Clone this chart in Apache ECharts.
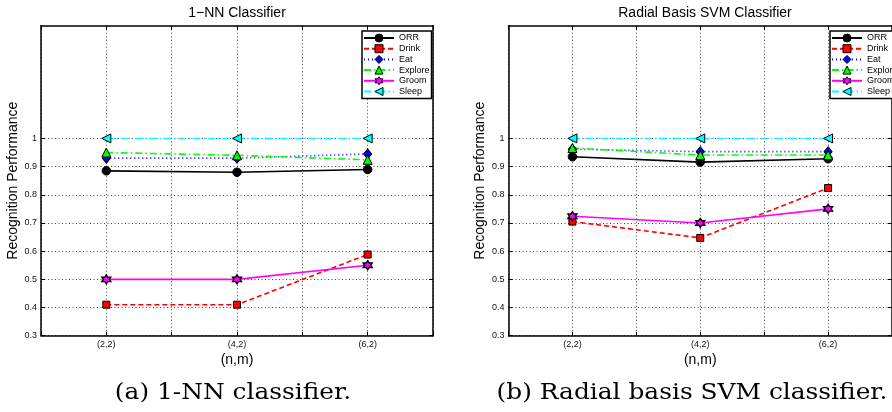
<!DOCTYPE html>
<html>
<head>
<meta charset="utf-8">
<script src="https://cdn.jsdelivr.net/npm/echarts@6/dist/echarts.min.js"></script>
<style>
  html, body { margin: 0; padding: 0; background: #fff; }
  #chart { width: 892px; height: 412px; }
</style>
</head>
<body>
<div id="chart"></div>
<script>
// (n,m) settings on the horizontal axis
const nValues = [2, 4, 6];
const xTickLabels = ['(2,2)', '(4,2)', '(6,2)'];
const yTickValues = [0.3, 0.4, 0.5, 0.6, 0.7, 0.8, 0.9, 1];
const seriesNames = ['ORR', 'Drink', 'Eat', 'Explore', 'Groom', 'Sleep'];

// 1-NN classifier
const nnORR = [0.885, 0.880, 0.890];
const nnDrink = [0.41, 0.41, 0.588];
const nnEat = [0.93, 0.93, 0.945];
const nnExplore = [0.95, 0.94, 0.924];
const nnGroom = [0.50, 0.50, 0.55];
const nnSleep = [1, 1, 1];

// Radial basis SVM classifier
const svmORR = [0.935, 0.916, 0.928];
const svmDrink = [0.705, 0.647, 0.824];
const svmEat = [0.962, 0.953, 0.953];
const svmExplore = [0.966, 0.941, 0.941];
const svmGroom = [0.724, 0.70, 0.75];
const svmSleep = [1, 1, 1];

const SANS = '"Liberation Sans", Arial, Helvetica, sans-serif';
const SERIF = '"DejaVu Serif", "Liberation Serif", serif';

// six-pointed star marker
const HEXAGRAM = 'path://M0,-10L2.887,-5L8.66,-5L5.774,0L8.66,5L2.887,5L0,10L-2.887,5L-8.66,5L-5.774,0L-8.66,-5L-2.887,-5Z';
const DASH_DOT = [7, 3, 1.5, 3];

const looks = {
  ORR:     { color: '#000000', type: 'solid', symbol: 'circle', size: 8.5 },
  Drink:   { color: '#ff0000', type: [5, 3], symbol: 'rect', size: 7 },
  Eat:     { color: '#0000ff', type: [1, 3], symbol: 'diamond', size: [8, 10] },
  Explore: { color: '#00ff00', type: DASH_DOT, symbol: 'triangle', size: 9 },
  Groom:   { color: '#ff00ff', type: 'solid', symbol: HEXAGRAM, size: 9 },
  Sleep:   { color: '#00ffff', type: DASH_DOT, symbol: 'triangle', size: 9, rotate: 90 }
};

function makeSeries(name, values, g) {
  const s = looks[name];
  return {
    name: name,
    type: 'line',
    xAxisIndex: g * 2,
    yAxisIndex: g * 2,
    data: nValues.map((n, i) => [n, values[i]]),
    symbol: s.symbol,
    symbolSize: s.size,
    symbolRotate: s.rotate || 0,
    showSymbol: true,
    lineStyle: { color: s.color, width: 1.6, type: s.type },
    itemStyle: { color: s.color, borderColor: '#000', borderWidth: name === 'Groom' ? 1.4 : 1 },
    emphasis: { disabled: true },
    animation: false
  };
}

const frame = { show: true, onZero: false, lineStyle: { color: '#000', width: 1.5 } };
const inTick = { show: true, inside: true, length: 4, lineStyle: { color: '#000', width: 1 } };
const dotted = { show: true, lineStyle: { color: '#444', type: [1, 2.5], width: 1 } };

function xAxes(g) {
  const base = { type: 'value', gridIndex: g, min: 1, max: 7, interval: 1, axisLine: frame, axisTick: inTick };
  return [
    Object.assign({}, base, {
      position: 'bottom',
      name: '(n,m)', nameLocation: 'middle', nameGap: 9,
      nameTextStyle: { fontSize: 14, fontFamily: SANS, color: '#000' },
      axisLabel: {
        customValues: nValues,
        formatter: v => { const i = nValues.indexOf(v); return i >= 0 ? xTickLabels[i] : ''; },
        fontSize: 9, fontFamily: SANS, color: '#111', margin: 4
      },
      splitLine: dotted
    }),
    Object.assign({}, base, { position: 'top', axisLabel: { show: false }, splitLine: { show: false } })
  ];
}

function yAxes(g) {
  const base = {
    type: 'value', gridIndex: g, min: 0.3, max: 1.4, axisLine: frame,
    axisTick: Object.assign({ customValues: yTickValues }, inTick)
  };
  return [
    Object.assign({}, base, {
      position: 'left',
      name: 'Recognition Performance', nameLocation: 'middle', nameGap: 21,
      nameTextStyle: { fontSize: 14, fontFamily: SANS, color: '#000' },
      axisLabel: { customValues: yTickValues, formatter: v => String(v), fontSize: 9, fontFamily: SANS, color: '#111', margin: 4 },
      splitLine: dotted
    }),
    Object.assign({}, base, { position: 'right', axisLabel: { show: false }, splitLine: { show: false } })
  ];
}

function makeLegend(left) {
  return {
    orient: 'vertical', left: left, top: 31,
    data: seriesNames,
    itemWidth: 30, itemHeight: 10, itemGap: 0.7,
    padding: [2, 2, 2, 1],
    borderColor: '#000', borderWidth: 1.5, backgroundColor: '#fff',
    textStyle: { fontSize: 9, color: '#000', fontFamily: SANS, lineHeight: 10 },
    itemStyle: { borderColor: '#000', borderWidth: 1 },
    selectedMode: false
  };
}

function textEl(x, y, text, font, stretch) {
  return {
    type: 'text', x: x, y: y, scaleX: stretch || 1, silent: true,
    style: { text: text, font: font, fill: '#000', textAlign: 'center', textVerticalAlign: 'middle', align: 'center', verticalAlign: 'middle' }
  };
}

const nnSets = [nnORR, nnDrink, nnEat, nnExplore, nnGroom, nnSleep];
const svmSets = [svmORR, svmDrink, svmEat, svmExplore, svmGroom, svmSleep];

const option = {
  animation: false,
  backgroundColor: '#fff',
  grid: [
    { left: 41, top: 25.7, width: 392, height: 310 },
    { left: 508.5, top: 25.7, width: 392, height: 310 }
  ],
  xAxis: xAxes(0).concat(xAxes(1)),
  yAxis: yAxes(0).concat(yAxes(1)),
  legend: [makeLegend(362), makeLegend(830)],
  series: seriesNames.map((n, i) => makeSeries(n, nnSets[i], 0))
    .concat(seriesNames.map((n, i) => makeSeries(n, svmSets[i], 1))),
  graphic: [
    textEl(237, 13, '1\u2212NN Classifier', '14px ' + SANS),
    textEl(705, 13, 'Radial Basis SVM Classifier', '14px ' + SANS),
    textEl(233, 393, '(a) 1-NN classifier.', '22px ' + SERIF, 1.13),
    textEl(692, 393, '(b) Radial basis SVM classifier.', '22px ' + SERIF, 1.13)
  ]
};

const chart = echarts.init(document.getElementById('chart'), null, { renderer: 'canvas' });
chart.setOption(option);
</script>
</body>
</html>
